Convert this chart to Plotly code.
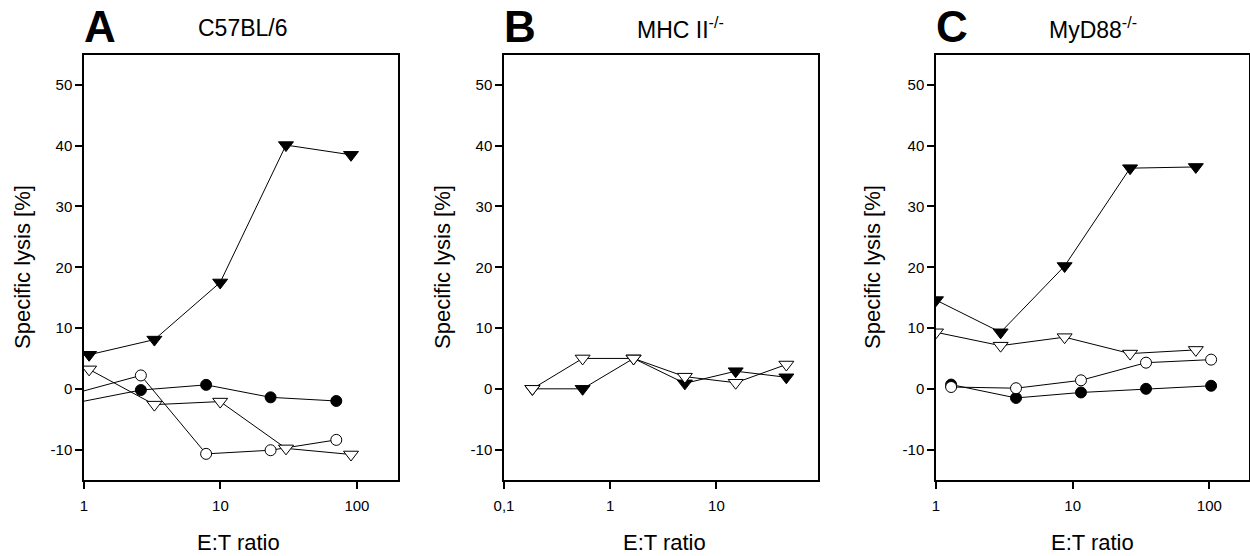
import plotly.graph_objects as go

# ---------------- data ----------------
# Panel A: C57BL/6
a_x_tri = [1.09, 3.28, 9.95, 30.2, 90.5]
a_filled_tri = [5.6, 8.1, 17.5, 40.1, 38.5]
a_open_tri = [3.2, -2.6, -2.1, -9.8, -10.8]
a_x_circ = [0.87, 2.61, 7.85, 23.3, 70.6]
a_filled_circ = [-2.3, -0.2, 0.65, -1.4, -2.0]
a_open_circ = [-0.7, 2.2, -10.7, -10.1, -8.4]

# Panel B: MHC II-/-
b_x = [0.185, 0.55, 1.66, 5.05, 15.2, 45.6]
b_filled_tri = [0.0, 0.0, 5.0, 0.9, 2.9, 1.9]
b_open_tri = [0.0, 5.0, 5.0, 2.0, 1.0, 4.0]

# Panel C: MyD88-/-
c_x_tri = [1.0, 2.97, 8.73, 26.3, 79.6]
c_filled_tri = [14.6, 9.3, 20.2, 36.3, 36.5]
c_open_tri = [9.3, 7.1, 8.5, 5.8, 6.4]
c_x_circ = [1.29, 3.85, 11.5, 34.4, 103.0]
c_filled_circ = [0.7, -1.5, -0.6, 0.0, 0.5]
c_open_circ = [0.3, 0.1, 1.4, 4.3, 4.8]

panel_letters = ["A", "B", "C"]
panel_titles = ["C57BL/6", "MHC II<sup>-/-</sup>", "MyD88<sup>-/-</sup>"]
y_ticks = [-10, 0, 10, 20, 30, 40, 50]
y_ticklabels = ["-10", "0", "10", "20", "30", "40", "50"]
x_ticks_ac = [1, 10, 100]
x_ticklabels_ac = ["1", "10", "100"]
x_ticks_b = [0.1, 1, 10]
x_ticklabels_b = ["0,1", "1", "10"]

FONT = "Liberation Sans, Arial, sans-serif"
W, H = 1250, 556

fig = go.Figure()


def add_series(xs, ys, axis, symbol, filled, size):
    fig.add_trace(go.Scatter(
        x=xs, y=ys, mode="lines+markers",
        xaxis="x" + axis, yaxis="y" + axis,
        line=dict(color="black", width=1),
        marker=dict(symbol=symbol, size=size,
                    color="black" if filled else "white",
                    line=dict(color="black", width=1)),
        cliponaxis=True, showlegend=False, hoverinfo="x+y"))


# Panel A
add_series(a_x_circ, a_open_circ, "", "circle", False, 11)
add_series(a_x_circ, a_filled_circ, "", "circle", True, 11)
add_series(a_x_tri, a_open_tri, "", "triangle-down", False, 13)
add_series(a_x_tri, a_filled_tri, "", "triangle-down", True, 13)
# Panel B
add_series(b_x, b_filled_tri, "2", "triangle-down", True, 13)
add_series(b_x, b_open_tri, "2", "triangle-down", False, 13)
# Panel C
add_series(c_x_circ, c_filled_circ, "3", "circle", True, 11)
add_series(c_x_circ, c_open_circ, "3", "circle", False, 11)
add_series(c_x_tri, c_open_tri, "3", "triangle-down", False, 13)
add_series(c_x_tri, c_filled_tri, "3", "triangle-down", True, 13)

# plot-area pixel extents
xdoms_px = [(84, 398), (504, 818), (936, 1249)]
y_top_px, y_bot_px = 54.5, 480
ydom = [(H - y_bot_px) / H, (H - y_top_px) / H]
xranges = [[0, 2.301], [-1, 1.957], [0, 2.29]]

layout = dict(
    template="none",
    width=W, height=H, autosize=False,
    margin=dict(l=0, r=0, t=0, b=0, pad=0, autoexpand=False),
    paper_bgcolor="white", plot_bgcolor="white",
    font=dict(family=FONT, color="black"),
)

for i, (x0, x1) in enumerate(xdoms_px):
    sfx = "" if i == 0 else str(i + 1)
    anchor_y = "y" + sfx
    anchor_x = "x" + sfx
    if i == 1:
        tv, tt = x_ticks_b, x_ticklabels_b
    else:
        tv, tt = x_ticks_ac, x_ticklabels_ac
    layout["xaxis" + sfx] = dict(
        domain=[x0 / W, x1 / W], anchor=anchor_y, type="log",
        range=xranges[i], tickvals=tv, ticktext=tt, automargin=False,
        ticks="outside", ticklen=7, tickwidth=1.5, tickcolor="black",
        ticklabelstandoff=4,
        showline=True, linecolor="black", linewidth=1.5, mirror=True,
        showgrid=False, zeroline=False,
        tickfont=dict(size=15, family=FONT, color="black"),
    )
    layout["yaxis" + sfx] = dict(
        domain=ydom, anchor=anchor_x, range=[-15, 55], automargin=False,
        tickvals=y_ticks, ticktext=y_ticklabels,
        ticks="outside", ticklen=7, tickwidth=1.5,
        tickcolor="black", showline=True, linecolor="black", linewidth=1.5,
        mirror=True, showgrid=False, zeroline=False,
        tickfont=dict(size=15, family=FONT, color="black"),
    )

fig.update_layout(**layout)

annotations = []
letter_x = [100, 520, 952]
title_x = [243, 680, 1093]
ytitle_x = [22, 442, 872]
xtitle_x = [238, 664, 1092]
for i in range(3):
    annotations.append(dict(
        x=letter_x[i] / W, y=(H - 26) / H, xref="paper", yref="paper",
        text="<b>" + panel_letters[i] + "</b>", showarrow=False,
        font=dict(size=44, family=FONT, color="black"),
        xanchor="center", yanchor="middle"))
    annotations.append(dict(
        x=title_x[i] / W, y=(H - 28) / H, xref="paper", yref="paper",
        text=panel_titles[i], showarrow=False,
        font=dict(size=23, family=FONT, color="black"),
        xanchor="center", yanchor="middle"))
    annotations.append(dict(
        x=ytitle_x[i] / W, y=(H - 267) / H, xref="paper", yref="paper",
        text="Specific lysis [%]", showarrow=False, textangle=-90,
        font=dict(size=22, family=FONT, color="black"),
        xanchor="center", yanchor="middle"))
    annotations.append(dict(
        x=xtitle_x[i] / W, y=(H - 542) / H, xref="paper", yref="paper",
        text="E:T ratio", showarrow=False,
        font=dict(size=22, family=FONT, color="black"),
        xanchor="center", yanchor="middle"))

fig.update_layout(annotations=annotations)

fig.write_html("out.html",
               config={"displayModeBar": False},
               post_script="document.body.style.margin='0px';"
                           "document.body.style.padding='0px';"
                           "document.body.style.overflow='hidden';")
